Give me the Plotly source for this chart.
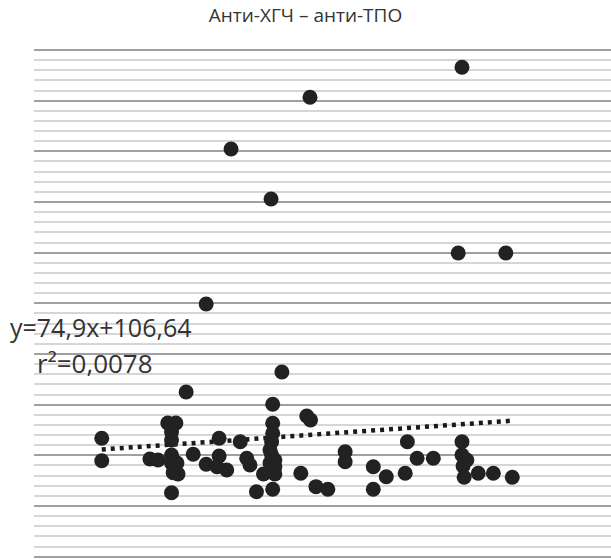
import plotly.graph_objects as go

# Anti-hCG (x) vs anti-TPO (y)
anti_hcg = [2.067, 1.786, 1.640, 1.714, 2.060, 2.148, 1.594, 1.557, 1.734, 1.717,
            1.401, 1.401, 1.523, 1.538, 1.530, 1.530, 1.490, 1.505, 1.530, 1.530,
            1.540, 1.533, 1.542, 1.530, 1.570, 1.594, 1.618, 1.618, 1.614, 1.632,
            1.657, 1.669, 1.675, 1.687, 1.700, 1.717, 1.717, 1.715, 1.712, 1.715,
            1.721, 1.712, 1.721, 1.721, 1.717, 1.780, 1.787, 1.769, 1.797, 1.819,
            1.851, 1.851, 1.903, 1.927, 1.903, 1.962, 1.966, 1.984, 2.014, 2.067,
            2.067, 2.076, 2.069, 2.071, 2.097, 2.125, 2.160]
anti_tpo = [965.9, 906.7, 804.6, 706.0, 599.4, 599.4, 498.7, 325.0, 364.5, 301.0,
            233.7, 189.5, 263.9, 263.9, 246.7, 230.3, 192.8, 190.8, 200.7, 184.3,
            184.9, 165.8, 163.2, 126.3, 202.1, 182.4, 233.7, 198.7, 177.6, 171.1,
            227.0, 194.2, 181.0, 128.3, 163.2, 263.3, 243.5, 227.0, 210.6, 200.7,
            190.8, 184.9, 177.6, 163.2, 133.0, 277.7, 269.8, 164.6, 138.2, 133.0,
            207.2, 187.5, 177.6, 157.9, 133.0, 164.6, 227.0, 194.2, 194.2, 227.0,
            200.7, 190.8, 179.0, 156.7, 164.6, 164.6, 156.7]

slope = 74.9
intercept = 106.64
r2 = "0,0078"
title_text = "Анти-ХГЧ – анти-ТПО"

trend_x = [min(anti_hcg), max(anti_hcg)]
trend_y = [slope * v + intercept for v in trend_x]

fig = go.Figure()
fig.add_trace(go.Scatter(
    x=trend_x, y=trend_y, mode="lines",
    line=dict(color="#1a1a1a", width=4.5, dash="4px,5px"),
    hoverinfo="skip", showlegend=False))
fig.add_trace(go.Scatter(
    x=anti_hcg, y=anti_tpo, mode="markers",
    marker=dict(size=15, color="#222222", line=dict(width=0)),
    showlegend=False))

fig.update_layout(
    width=611, height=559,
    margin=dict(l=34, r=0, t=48, b=0),
    paper_bgcolor="white", plot_bgcolor="white",
    title=dict(text=title_text, xref="container", x=0.5, xanchor="center",
               yref="container", y=1 - 15 / 559, yanchor="middle",
               font=dict(family="Open Sans", size=19, color="#333333")),
    xaxis=dict(range=[1.2757, 2.3425], showgrid=False, zeroline=False,
               showticklabels=False, showline=False, ticks=""),
    yaxis=dict(range=[-4.54, 1003.95], dtick=100, tick0=0, showgrid=True,
               gridcolor="#a0a0a0", gridwidth=2, zeroline=False,
               showticklabels=False, showline=False, ticks="",
               minor=dict(dtick=20, showgrid=True, gridcolor="#d6d6d6",
                          gridwidth=2, ticks="")),
    annotations=[
        dict(text="y=74,9x+106,64", xref="paper", yref="paper",
             x=-0.045, y=0.454, xanchor="left", yanchor="middle",
             showarrow=False,
             font=dict(family="Open Sans", size=25, color="#333333")),
        dict(text="r²=" + r2, xref="paper", yref="paper",
             x=0.0017, y=0.384, xanchor="left", yanchor="middle",
             showarrow=False,
             font=dict(family="Open Sans", size=26, color="#333333")),
    ],
)

fig.write_html("out.html",
               config={"displayModeBar": False},
               post_script="document.body.style.margin='0';"
                           "document.body.style.overflow='hidden';")
